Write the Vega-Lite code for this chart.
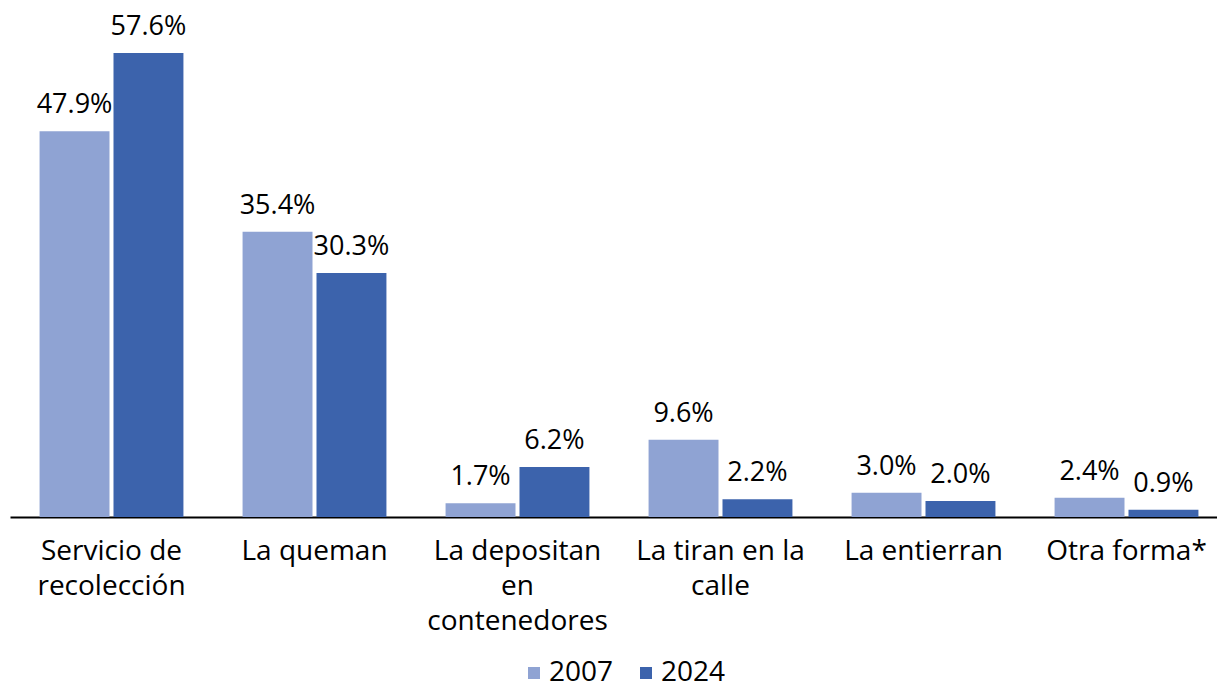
{
  "$schema": "https://vega.github.io/schema/vega-lite/v6.json",
  "width": 1207,
  "height": 517,
  "autosize": {"type": "none"},
  "padding": {"left": 10, "right": 0, "top": 0, "bottom": 174},
  "background": "white",
  "config": {
    "view": {"stroke": null},
    "font": "Open Sans",
    "text": {"font": "Open Sans"}
  },
  "data": {
    "values": [
      {"categoria": "Servicio de recolección", "anio": "2007", "valor": 0.479},
      {"categoria": "Servicio de recolección", "anio": "2024", "valor": 0.576},
      {"categoria": "La queman", "anio": "2007", "valor": 0.354},
      {"categoria": "La queman", "anio": "2024", "valor": 0.303},
      {"categoria": "La depositan en contenedores", "anio": "2007", "valor": 0.017},
      {"categoria": "La depositan en contenedores", "anio": "2024", "valor": 0.062},
      {"categoria": "La tiran en la calle", "anio": "2007", "valor": 0.096},
      {"categoria": "La tiran en la calle", "anio": "2024", "valor": 0.022},
      {"categoria": "La entierran", "anio": "2007", "valor": 0.030},
      {"categoria": "La entierran", "anio": "2024", "valor": 0.020},
      {"categoria": "Otra forma*", "anio": "2007", "valor": 0.024},
      {"categoria": "Otra forma*", "anio": "2024", "valor": 0.009}
    ]
  },
  "encoding": {
    "x": {
      "field": "categoria",
      "type": "nominal",
      "sort": null,
      "scale": {"range": [0, 1218], "paddingInner": 0, "paddingOuter": 0},
      "axis": {
        "title": null,
        "labelAngle": 0,
        "ticks": false,
        "domainColor": "#000000",
        "domainWidth": 2,
        "labelFont": "Open Sans",
        "labelFontSize": 28,
        "labelColor": "#000000",
        "labelPadding": 20,
        "labelLineHeight": 35,
        "labelLimit": 400,
        "labelExpr": "datum.value == 'Servicio de recolección' ? ['Servicio de', 'recolección'] : datum.value == 'La depositan en contenedores' ? ['La depositan', 'en', 'contenedores'] : datum.value == 'La tiran en la calle' ? ['La tiran en la', 'calle'] : datum.value"
      }
    },
    "xOffset": {
      "field": "anio",
      "type": "nominal",
      "scale": {"paddingInner": 0.054, "paddingOuter": 0.4}
    },
    "y": {
      "field": "valor",
      "type": "quantitative",
      "scale": {"domain": [0, 0.6418], "nice": false},
      "axis": null
    }
  },
  "layer": [
    {
      "mark": {"type": "bar"},
      "encoding": {
        "color": {
          "field": "anio",
          "type": "nominal",
          "scale": {"domain": ["2007", "2024"], "range": ["#8FA3D3", "#3C63AC"]},
          "legend": {
            "title": null,
            "orient": "none",
            "legendX": 510,
            "legendY": 659,
            "direction": "horizontal",
            "symbolType": "square",
            "symbolSize": 144,
            "symbolStrokeWidth": 0,
            "labelFont": "Open Sans",
            "labelFontSize": 28,
            "labelColor": "#000000",
            "labelOffset": 1,
            "columnPadding": 18
          }
        }
      }
    },
    {
      "mark": {"type": "text", "baseline": "bottom", "dy": -12, "fontSize": 27, "font": "Open Sans", "color": "#000000"},
      "encoding": {
        "text": {"field": "valor", "type": "quantitative", "format": ".1%"}
      }
    }
  ]
}
